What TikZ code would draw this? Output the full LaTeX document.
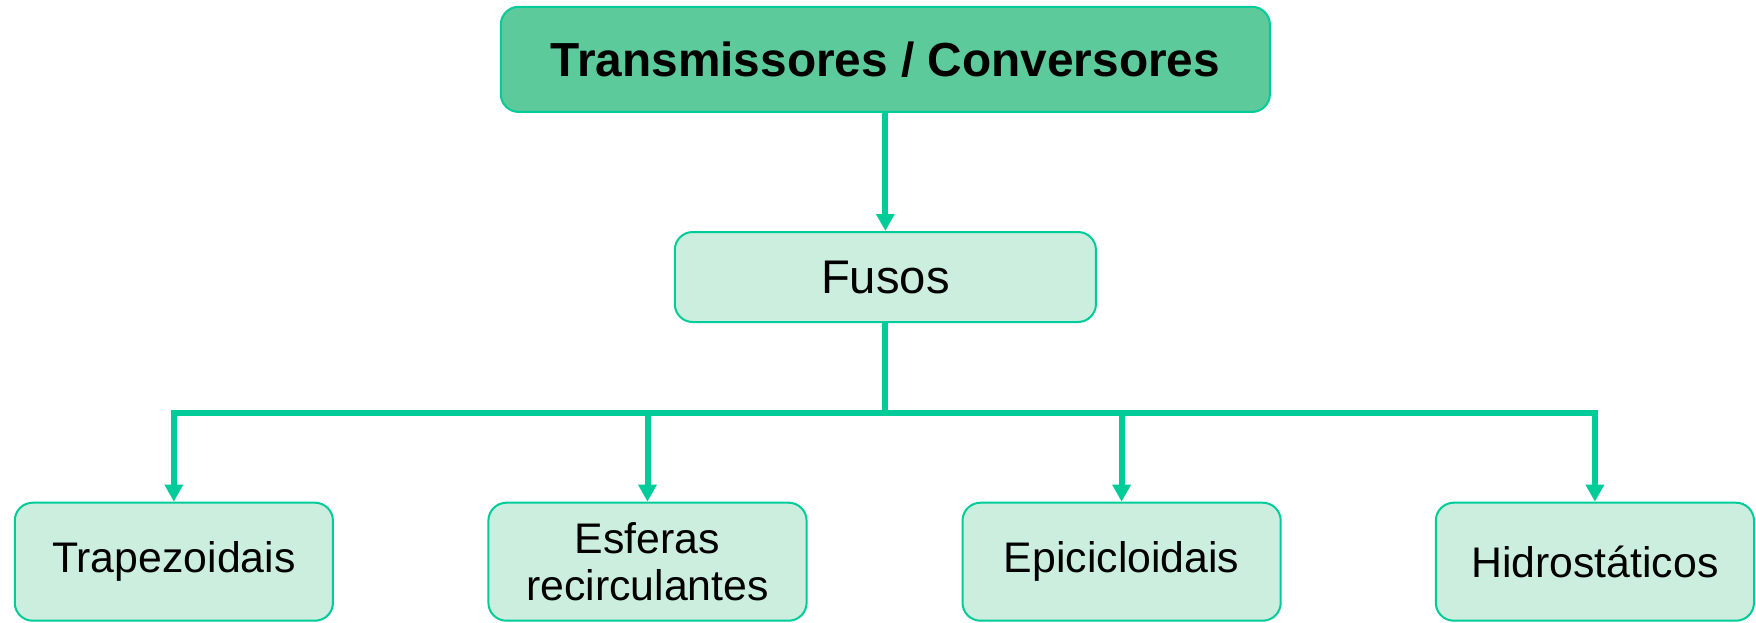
\documentclass[tikz,border=0pt]{standalone}
\usepackage{fontspec}
\setmainfont{Liberation Sans}
\usetikzlibrary{arrows.meta}
\definecolor{edgegreen}{RGB}{0,204,153}
\definecolor{darkfill}{RGB}{93,202,156}
\definecolor{lightfill}{RGB}{204,238,222}
\tikzset{
  topbox/.style={draw=edgegreen, line width=1pt, fill=darkfill, rounded corners=9pt,
    minimum width=384.6pt, minimum height=52.6pt, inner sep=0pt,
    font=\fontsize{23.9}{28}\selectfont\bfseries},
  midbox/.style={draw=edgegreen, line width=1pt, fill=lightfill, rounded corners=9pt,
    minimum width=210.6pt, minimum height=45pt, inner sep=0pt,
    font=\fontsize{23.6}{28}\selectfont},
  leafbox/.style={draw=edgegreen, line width=1pt, fill=lightfill, rounded corners=9pt,
    minimum width=159.1pt, minimum height=59pt, inner sep=0pt, align=center,
    font=\fontsize{21.4}{23.7}\selectfont},
  conn/.style={draw=edgegreen, line width=3pt},
  arr/.style={conn, -{Triangle[length=8.5pt, width=8.8pt]}},
}
\begin{document}
\begin{tikzpicture}[x=0.5pt, y=-0.5pt]
\useasboundingbox (0,0) rectangle (1756,622);
\node[topbox] (top) at (885.35,59.35) {Transmissores / Conversores};
\node[midbox] (fusos) at (885.35,277) {Fusos};
\node[leafbox] (t1) at (173.85,561.7) {\raisebox{-1pt}{Trapezoidais}};
\node[leafbox] (t2) at (647.5,561.7) {Esferas\\recirculantes};
\node[leafbox] (t3) at (1121.6,561.7) {\raisebox{-1pt}{Epicicloidais}};
\node[leafbox] (t4) at (1594.9,561.7) {\raisebox{-1pt}{Hidrostáticos}};
\coordinate (bus) at (885.35,413);
\draw[arr] (top.south) -- (fusos.north);
\draw[conn] (fusos.south) -- (bus);
\draw[arr, line join=miter] (bus) -| (t1.north);
\draw[arr] (bus) -| (t2.north);
\draw[arr] (bus) -| (t3.north);
\draw[arr, line join=miter] (bus) -| (t4.north);
\end{tikzpicture}
\end{document}
